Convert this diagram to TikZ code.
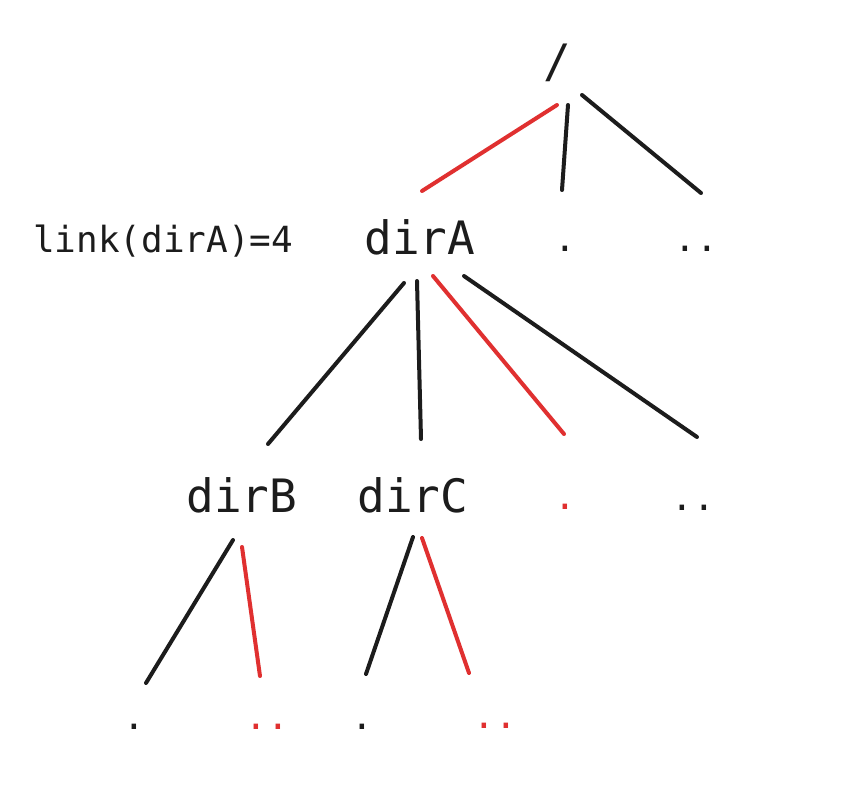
\documentclass[tikz,border=0pt]{standalone}
\usepackage{fontspec}
\setmonofont{DejaVu Sans Mono}
\definecolor{edgered}{HTML}{E03030}
\definecolor{ink}{HTML}{1C1C1C}
\begin{document}
\begin{tikzpicture}[x=1pt,y=-1pt,
  big/.style={inner sep=0pt,anchor=base,text=ink,font=\ttfamily\fontsize{46}{50}\selectfont},
  small/.style={inner sep=0pt,anchor=base,text=ink,font=\ttfamily\fontsize{36}{40}\selectfont},
  reddot/.style={small,text=edgered},
  edge/.style={draw=ink,line width=4pt,line cap=round},
  redge/.style={draw=edgered,line width=4pt,line cap=round}]
\useasboundingbox (0,0) rectangle (844,803);
\fill[white] (0,0) rectangle (844,803);
% nodes
\node[big] (root) at (557,77) {/};
\node[big] (dirA) at (420,254) {dirA};
\node[small] (r1) at (565,251) {.};
\node[small] (r2) at (696,251) {..};
\node[small,anchor=base west] (link) at (33,252) {link(dirA)=4};
\node[big] (dirB) at (242,512) {dirB};
\node[big] (dirC) at (413,512) {dirC};
\node[reddot] (a1) at (565,509) {.};
\node[small] (a2) at (693,510) {..};
\node[small] (b1) at (134,729) {.};
\node[reddot] (b2) at (267,729) {..};
\node[small] (c1) at (362,729) {.};
\node[reddot] (c2) at (495,728) {..};
% connectors
\draw[redge] ([shift={(0,28)}]root.base) -- ([shift={(2,-63)}]dirA.base);
\draw[edge] ([shift={(11,28)}]root.base) -- ([shift={(-3,-61)}]r1.base);
\draw[edge] ([shift={(25,18)}]root.base) -- ([shift={(5,-58)}]r2.base);
\draw[edge] ([shift={(-16,29)}]dirA.base) -- ([shift={(26,-68)}]dirB.base);
\draw[edge] ([shift={(-3,27)}]dirA.base) -- ([shift={(8,-73)}]dirC.base);
\draw[redge] ([shift={(13,22)}]dirA.base) -- ([shift={(-1,-75)}]a1.base);
\draw[edge] ([shift={(44,22)}]dirA.base) -- ([shift={(4,-73)}]a2.base);
\draw[edge] ([shift={(-9,28)}]dirB.base) -- ([shift={(12,-46)}]b1.base);
\draw[redge] ([shift={(0,35)}]dirB.base) -- ([shift={(-7,-53)}]b2.base);
\draw[edge] ([shift={(0,25)}]dirC.base) -- ([shift={(4,-55)}]c1.base);
\draw[redge] ([shift={(9,26)}]dirC.base) -- ([shift={(-26,-55)}]c2.base);
\end{tikzpicture}
\end{document}
